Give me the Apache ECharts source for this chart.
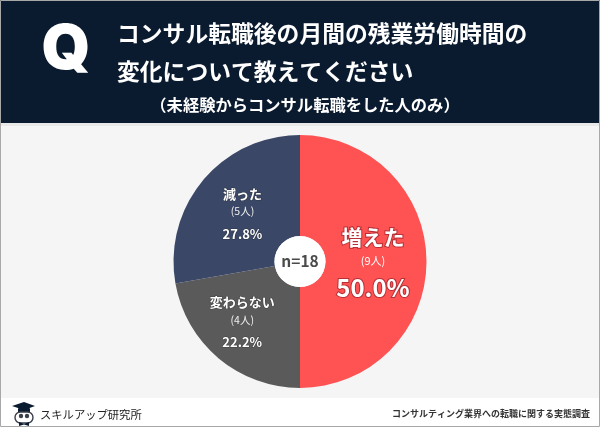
<!DOCTYPE html>
<html>
<head>
<meta charset="utf-8">
<script src="https://cdn.jsdelivr.net/npm/echarts@6/dist/echarts.min.js"></script>
<style>
html, body { margin: 0; padding: 0; background: #f5f5f5; }
#chart { width: 600px; height: 427px; }
</style>
</head>
<body>
<div id="chart"></div>
<script>
const categories = ['増えた', '変わらない', '減った'];
const counts = [9, 4, 5];
const countLabels = ['(9人)', '(4人)', '(5人)'];
const percents = ['50.0%', '22.2%', '27.8%'];
const colors = ['#ff5252', '#5a5a5a', '#3a4766'];
const titleLines = ['コンサル転職後の月間の残業労働時間の', '変化について教えてください'];
const subTitle = '（未経験からコンサル転職をした人のみ）';
const sampleLabel = 'n=18';
const brandName = 'スキルアップ研究所';
const sourceName = 'コンサルティング業界への転職に関する実態調査';

const font = '"Noto Sans CJK JP", sans-serif';
const navy = '#0a1a2f';
// label nudges per slice
const nudges = [{ dx: -6, dy: 3 }, { dx: -7, dy: 3 }, { dx: 3, dy: 6 }];

function txt(x, y, text, size, color, weight, align) {
  return {
    type: 'text', x: x, y: y, z: 5,
    style: {
      text: text, fill: color, fontFamily: font, fontSize: size,
      fontWeight: weight || 'normal', align: align || 'left', verticalAlign: 'middle'
    }
  };
}

const chart = echarts.init(document.getElementById('chart'));
chart.setOption({
  animation: false,
  backgroundColor: '#f5f5f5',
  graphic: [
    // header
    { type: 'rect', z: 1, shape: { x: 0, y: 0, width: 600, height: 123 }, style: { fill: navy } },
    { type: 'rect', z: 1, shape: { x: 0, y: 123, width: 600, height: 3 }, style: { fill: '#e8e8e8' } },
    { type: 'text', x: 66, y: 50, z: 5, style: { text: 'Q', fill: '#fff', fontFamily: 'Inter, Roboto, sans-serif', fontSize: 62, fontWeight: 900, align: 'center', verticalAlign: 'middle' } },
    txt(117, 33, titleLines[0], 22.8, '#fff', 'bold'),
    txt(117, 71, titleLines[1], 22.8, '#fff', 'bold'),
    txt(305, 105, subTitle, 16.3, '#fff', 'bold', 'center'),
    // footer
    { type: 'rect', z: 1, shape: { x: 0, y: 398, width: 600, height: 29 }, style: { fill: '#fff' } },
    txt(40, 415, brandName, 11.3, '#222'),
    txt(590, 414, sourceName, 9, '#333', 'bold', 'right'),
    // owl logo
    { type: 'polygon', z: 5, shape: { points: [[12, 406], [24, 402], [35, 406], [24, 410]] }, style: { fill: navy } },
    { type: 'rect', z: 5, shape: { x: 18, y: 408, width: 12, height: 5, r: 1 }, style: { fill: navy } },
    { type: 'rect', z: 5, shape: { x: 15, y: 412, width: 18, height: 11, r: 6 }, style: { fill: '#fff', stroke: '#3a3f4a', lineWidth: 1.4 } },
    { type: 'circle', z: 6, shape: { cx: 21, cy: 416, r: 2.2 }, style: { fill: '#3a3f4a' } },
    { type: 'circle', z: 6, shape: { cx: 27, cy: 416, r: 2.2 }, style: { fill: '#3a3f4a' } },
    { type: 'polygon', z: 6, shape: { points: [[19, 422], [24, 424], [29, 422], [29, 426], [24, 424.5], [19, 426]] }, style: { fill: navy } },
    // center hole + label
    { type: 'circle', z: 20, shape: { cx: 300, cy: 261.5, r: 25.5 }, style: { fill: '#fff' } },
    { type: 'text', x: 300, y: 261, z: 21, style: { text: sampleLabel, fill: '#4a4a4a', fontFamily: font, fontSize: 15.5, fontWeight: 'bold', align: 'center', verticalAlign: 'middle' } },
    // outer frame
    { type: 'rect', z: 30, shape: { x: 0.5, y: 0.5, width: 599, height: 426 }, style: { fill: 'none', stroke: '#a8a8a8', lineWidth: 1 } }
  ],
  series: [{
    type: 'pie',
    center: [300, 261.5],
    radius: [25.5, 126.5],
    startAngle: 90,
    clockwise: true,
    silent: true,
    data: categories.map(function (name, i) {
      return {
        name: name,
        value: counts[i],
        itemStyle: { color: colors[i] },
        label: {
          rich: i === 0 ? {
            a: { fontFamily: font, fontSize: 21, fontWeight: 'bold', color: '#fff', textBorderColor: '#b52f35', textBorderWidth: 2, lineHeight: 26 },
            b: { fontFamily: font, fontSize: 11, color: '#fff', lineHeight: 20 },
            c: { fontFamily: font, fontSize: 24, fontWeight: 'bold', color: '#fff', textBorderColor: '#b52f35', textBorderWidth: 2, lineHeight: 34 }
          } : {
            a: { fontFamily: font, fontSize: 13, fontWeight: 'bold', color: '#fff', textBorderColor: 'rgba(40,40,40,0.5)', textBorderWidth: 1, lineHeight: 17 },
            b: { fontFamily: font, fontSize: 10.5, color: '#eeeeee', lineHeight: 17 },
            c: { fontFamily: font, fontSize: 13, fontWeight: 'bold', color: '#fff', textBorderColor: 'rgba(40,40,40,0.5)', textBorderWidth: 1, lineHeight: 28 }
          }
        }
      };
    }),
    labelLayout: function (p) { return nudges[p.dataIndex]; },
    label: {
      show: true,
      position: 'inside',
      formatter: function (p) {
        const i = p.dataIndex;
        return '{a|' + categories[i] + '}\n{b|' + countLabels[i] + '}\n{c|' + percents[i] + '}';
      }
    },
    labelLine: { show: false }
  }]
});
</script>
</body>
</html>
